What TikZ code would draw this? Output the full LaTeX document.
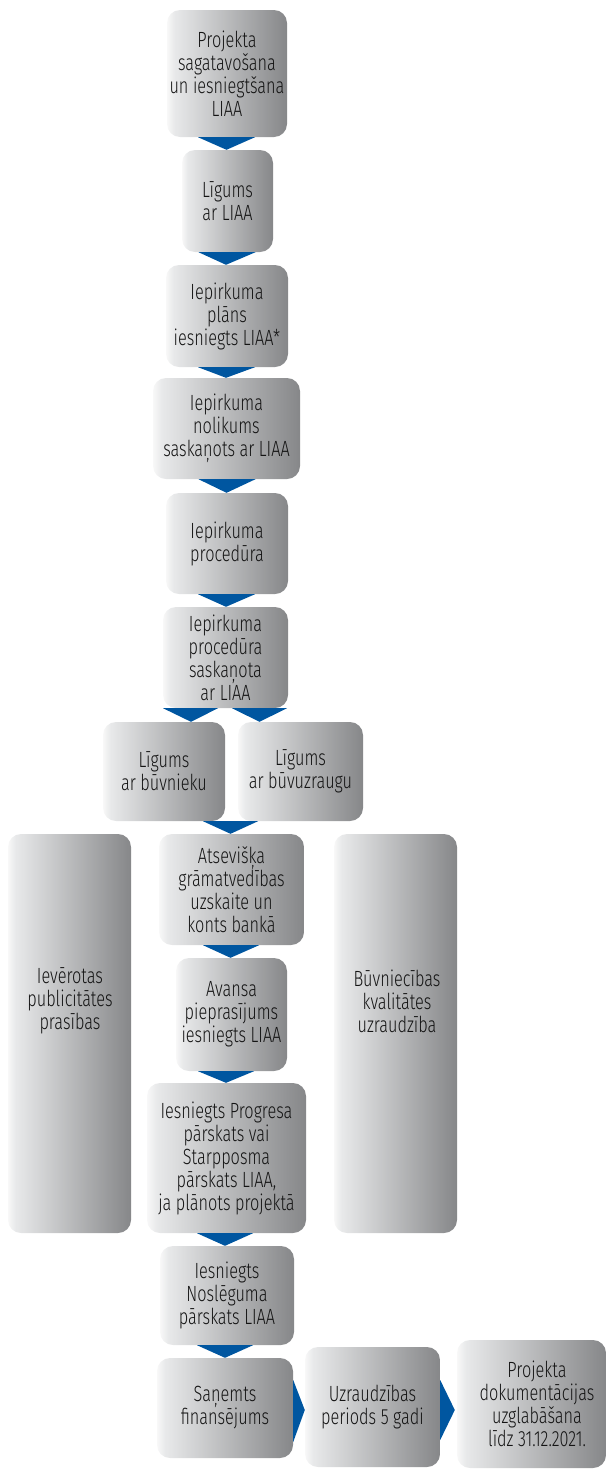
\documentclass[tikz,border=0pt]{standalone}
\usepackage{fontspec}
\setmainfont[FakeStretch=0.74, UprightFont={* Light}]{Fira Sans}
\usetikzlibrary{calc}
\definecolor{flowblue}{RGB}{0,86,160}
\definecolor{txt}{RGB}{20,20,20}
\definecolor{shadeW}{RGB}{248,248,248}
\definecolor{shadeA}{RGB}{232,233,234}
\definecolor{shadeB}{RGB}{134,135,137}
\pgfdeclarehorizontalshading{boxshade}{100bp}{color(0bp)=(shadeW); color(25bp)=(shadeW); color(28bp)=(shadeA); color(75bp)=(shadeB); color(100bp)=(shadeB)}
\tikzset{
  box/.style={rounded corners=13pt, shading=boxshade, draw=none, inner sep=0pt, align=center,
    text=txt, font=\fontsize{22}{23}\selectfont},
  boxtext/.style={inner sep=0pt, align=center, text=txt, font=\fontsize{22}{23}\selectfont},
  arr/.style={fill=flowblue, draw=none}
}
\begin{document}
\begin{tikzpicture}[x=1pt,y=-1pt]
\useasboundingbox (0,0) rectangle (607,1470);
% boxes
\node[box, minimum width=120pt, minimum height=127pt] (b1) at (227,73.5) {Projekta\\sagatavošana\\un iesniegtšana\\LIAA};
\node[box, minimum width=91pt, minimum height=102pt] (b2) at (227.5,201) {Līgums\\ar LIAA};
\node[box, minimum width=122pt, minimum height=102pt] (b3) at (227,316) {Iepirkuma\\plāns\\iesniegts LIAA*};
\node[box, minimum width=147pt, minimum height=101pt] (b4) at (226.5,428.5) {Iepirkuma\\nolikums\\saskaņots ar LIAA};
\node[box, minimum width=122pt, minimum height=101pt] (b5) at (227,543.5) {Iepirkuma\\procedūra};
\node[box, minimum width=125pt, minimum height=101pt] (b6) at (225.5,657.5) {Iepirkuma\\procedūra\\saskaņota\\ar LIAA};
\node[box, minimum width=122pt, minimum height=99pt] (b7) at (164,771.5) {Līgums\\ar būvnieku};
\node[box, minimum width=125pt, minimum height=99pt] (b8) at (300.5,771.5) {Līgums\\ar būvuzraugu};
\node[box, minimum width=145pt, minimum height=111pt] (b9) at (231.5,889.5) {Atsevišķa\\grāmatvedības\\uzskaite un\\konts bankā};
\node[box, minimum width=111pt, minimum height=113pt] (b10) at (231.5,1014.5) {Avansa\\pieprasījums\\iesniegts LIAA};
\node[box, minimum width=159pt, minimum height=150pt] (b11) at (226.5,1158) {Iesniegts Progresa\\pārskats  vai\\Starpposma\\pārskats LIAA,\\ja plānots projektā};
\node[box, minimum width=134pt, minimum height=99pt] (b12) at (227,1295.5) {Iesniegts\\Noslēguma\\pārskats LIAA};
\node[box, minimum width=136pt, minimum height=100pt] (b13) at (225,1408) {Saņemts\\finansējums};
\node[box, minimum width=135pt, minimum height=120pt] (b14) at (372.5,1407) {Uzraudzības\\periods 5 gadi};
\node[box, minimum width=149pt, minimum height=128pt] (b15) at (531.5,1404) {};
\node[boxtext] (t15) at (537,1404) {Projekta\\dokumentācijas\\uzglabāšana\\līdz 31.12.2021.};
\node[box, minimum width=123pt, minimum height=399pt] (bl) at (69.5,1033.5) {};
\node[boxtext] (tl) at (70,1001) {Ievērotas\\publicitātes\\prasības};
\node[box, minimum width=123pt, minimum height=399pt] (br) at (395.5,1033.5) {};
\node[boxtext] (tr) at (397,1001) {Būvniecības\\kvalitātes\\uzraudzība};
% arrows
\fill[arr] ($(b1.south)+(-29,0)$) -- ($(b1.south)+(28,0)$) -- ($(b2.north)+(-1,0)$) -- cycle;
\fill[arr] ($(b2.south)+(-29,0)$) -- ($(b2.south)+(28,0)$) -- ($(b3.north)+(-1,0)$) -- cycle;
\fill[arr] ($(b3.south)+(-29,0)$) -- ($(b3.south)+(28,0)$) -- ($(b4.north)+(-0.5,0)$) -- cycle;
\fill[arr] ($(b4.south)+(-28,0)$) -- ($(b4.south)+(29,0)$) -- ($(b5.north)+(-0.5,0)$) -- cycle;
\fill[arr] ($(b5.south)+(-29,0)$) -- ($(b5.south)+(28,0)$) -- ($(b6.north)+(0.5,0)$) -- cycle;
\fill[arr] ($(b6.south)+(-62.5,0)$) -- ($(b6.south)+(-7.5,0)$) -- ($(b7.north)+(27,0)$) -- cycle;
\fill[arr] ($(b6.south)+(6.5,0)$) -- ($(b6.south)+(61.5,0)$) -- ($(b8.north)+(-41,0)$) -- cycle;
\fill[arr] ($(b7.south)+(39,0)$) -- ($(b7.south)+(94,0)$) -- ($(b9.north)+(-1,0)$) -- cycle;
\fill[arr] ($(b9.south)+(-28.5,0)$) -- ($(b9.south)+(27.5,0)$) -- ($(b10.north)+(-1,0)$) -- cycle;
\fill[arr] ($(b10.south)+(-33.5,0)$) -- ($(b10.south)+(22.5,0)$) -- ($(b11.north)+(-0.5,0)$) -- cycle;
\fill[arr] ($(b11.south)+(-29.5,0)$) -- ($(b11.south)+(26.5,0)$) -- ($(b12.north)+(-2,0)$) -- cycle;
\fill[arr] ($(b12.south)+(-30,0)$) -- ($(b12.south)+(26,0)$) -- ($(b13.north)+(0,0)$) -- cycle;
\fill[arr] ($(b13.east)+(0,-28)$) -- ($(b13.east)+(0,34)$) -- ($(b14.west)+(0,3)$) -- cycle;
\fill[arr] ($(b14.east)+(0,-27)$) -- ($(b14.east)+(0,33)$) -- ($(b15.west)+(-2,6)$) -- cycle;
\end{tikzpicture}
\end{document}
